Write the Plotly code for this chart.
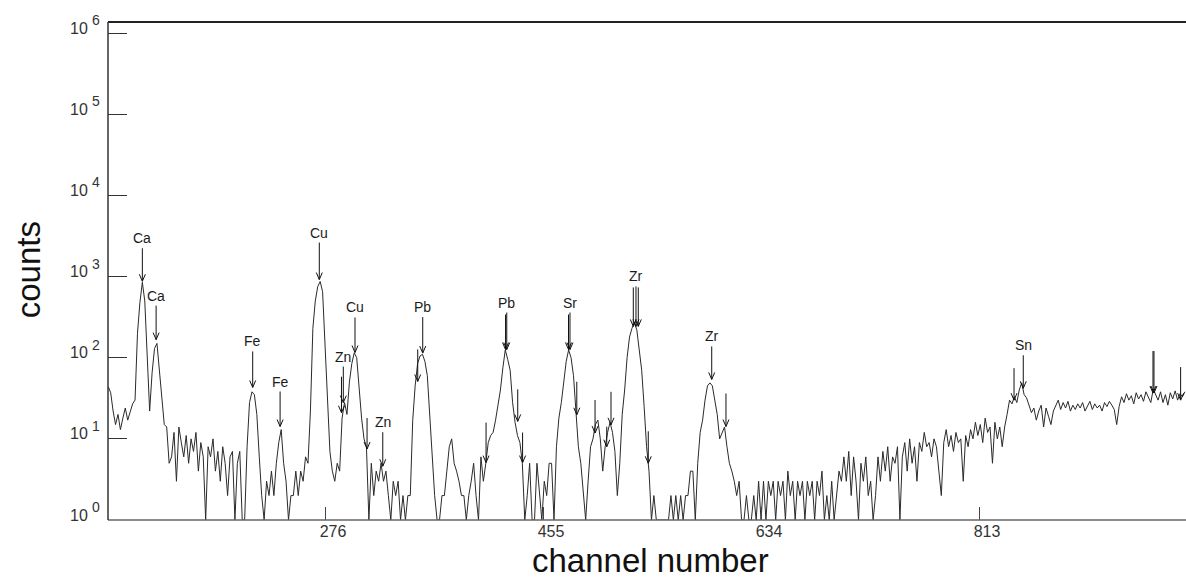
import numpy as np
import plotly.graph_objects as go

# Spectrum: counts sampled every 2 channels, starting at channel 98
first_channel = 98
channel_step = 2
counts = [
    44, 37, 22, 15, 20, 13, 18, 24, 17, 22,        # 98-116
    27, 30, 200, 480, 850, 500, 110, 22, 65, 130,  # 118-136
    150, 70, 28, 15, 14, 5, 6, 12, 3, 14,          # 138-156
    9, 6, 11, 5, 10, 7, 12, 4, 9, 6,               # 158-176
    1, 8, 6, 10, 4, 7, 3, 8, 5, 2,                 # 178-196
    6, 7, 1, 5, 7, 1, 1, 8, 28, 38,                # 198-216
    35, 20, 6, 2, 1, 3, 2, 4, 2, 5,                # 218-236
    9, 13, 5, 3, 1, 2, 2, 4, 2, 4,                 # 238-256
    3, 6, 5, 22, 230, 500, 750, 870, 650, 150,     # 258-276
    25, 7, 4, 3, 5, 4, 18, 28, 20, 50,             # 278-296
    85, 115, 100, 40, 18, 10, 8, 1, 5, 2,          # 298-316
    4, 3, 5, 3, 4, 2, 1, 3, 2, 3,                  # 318-336
    1, 2, 1, 2, 2, 17, 45, 85, 105, 110,           # 338-356
    90, 60, 20, 6, 2, 1, 1, 2, 2, 4,               # 358-376
    8, 10, 5, 4, 3, 2, 2, 1, 2, 3,                 # 378-396
    5, 2, 1, 6, 3, 5, 9, 11, 12, 17,               # 398-416
    25, 40, 75, 125, 95, 70, 28, 16, 11, 9,        # 418-436
    5, 1, 2, 5, 1, 1, 5, 2, 1, 3,                  # 438-456
    2, 5, 5, 1, 8, 18, 28, 50, 90, 125,            # 458-476
    100, 60, 23, 8, 5, 2, 1, 3, 8, 10,             # 478-496
    15, 17, 10, 4, 8, 12, 16, 12, 7, 2,            # 498-516
    5, 20, 40, 100, 180, 230, 270, 220, 130, 70,   # 518-536
    25, 8, 4, 1, 2, 1, 1, 1, 1, 1,                 # 538-556
    1, 2, 1, 2, 1, 2, 1, 2, 2, 4,                  # 558-576
    4, 1, 5, 12, 17, 30, 45, 49, 45, 30,           # 578-596
    20, 10, 12, 14, 8, 5, 4, 3, 2, 3,              # 598-616
    1, 1, 2, 1, 1, 2, 1, 3, 1, 3,                  # 618-636
    1, 3, 2, 3, 1, 3, 2, 3, 1, 4,                  # 638-656
    2, 3, 1, 3, 2, 3, 1, 3, 2, 3,                  # 658-676
    1, 3, 2, 4, 1, 2, 1, 3, 1, 2,                  # 678-696
    4, 3, 6, 3, 7, 2, 6, 3, 1, 5,                  # 698-716
    3, 6, 2, 3, 1, 2, 6, 3, 7, 4,                  # 718-736
    8, 3, 6, 5, 8, 1, 6, 9, 4, 10,                 # 738-756
    5, 8, 3, 9, 7, 12, 8, 9, 6, 10,                # 758-776
    8, 4, 2, 9, 13, 8, 11, 7, 12, 9,               # 778-796
    10, 3, 11, 8, 13, 10, 16, 11, 15, 9,           # 798-816
    18, 12, 14, 5, 16, 10, 14, 8, 14, 20,          # 818-836
    30, 27, 33, 28, 40, 49, 35, 32, 25, 21,        # 838-856
    24, 17, 22, 26, 14, 24, 19, 15, 22, 26,        # 858-876
    30, 23, 28, 24, 29, 22, 26, 23, 27, 24,        # 878-896
    28, 22, 25, 29, 23, 27, 24, 26, 22, 28,        # 898-916
    25, 29, 26, 23, 15, 25, 33, 28, 36, 30,        # 918-936
    34, 27, 37, 31, 35, 29, 38, 33, 28, 41,        # 938-956
    35, 30, 38, 28, 35, 26, 37, 31, 39, 30,        # 958-976
    36, 33, 38,                                    # 978-982
]
channels = first_channel + channel_step * np.arange(len(counts))

# Identified lines: element, channel, count at the arrow tip, label height (px)
line_names = ["Ca", "Ca", "Fe", "Fe", "Cu", "Cu", "Zn", "Zn",
              "Pb", "Pb", "Sr", "Zr", "Zr", "Sn"]
line_channels = [126.0, 137.3, 216.6, 239.1, 271.3, 300.6, 291.0, 323.4,
                 356.2, 425.2, 477.1, 531.3, 593.5, 849.3]
line_tip_counts = [875, 167, 43, 14.2, 918, 116, 28, 4.6,
                   114, 126, 126, 243, 54, 42]
line_rise = [43, 44, 46, 45, 47, 45, 46, 44, 46, 47, 47, 50, 43, 43]

# Additional unlabelled line markers
mark_channels = [310.5, 289.5, 352.1, 424.2, 434.2, 408.2, 438.2, 475.9,
                 482.7, 497.7, 510.8, 507.3, 529.1, 533.2, 541.4, 605.2,
                 841.7, 956.6, 955.8, 978.5]
mark_tip_counts = [7.5, 21, 51, 126, 16.4, 5.1, 5.1, 126,
                   19.8, 11.8, 14.9, 8.0, 243, 243, 5.0, 14.2,
                   30, 36.7, 36.7, 30]
mark_rise = [31, 36, 32, 35, 32, 40, 30, 35,
             33, 33, 33, 20, 39, 39, 32, 33,
             32, 42, 42, 33]

x_ticks = [276, 455, 634, 813]
y_exponents = [0, 1, 2, 3, 4, 5, 6]

FONT = "Liberation Sans, Arial, sans-serif"


def arrow_shape(ch, tip, length):
    """Downward arrow with an open V head, sized in pixels, tip at (ch, tip)."""
    path = f"M0,{length} L0,0 M-3,7 L0,0 L3,7"
    return dict(
        type="path", xref="x", yref="y",
        xsizemode="pixel", ysizemode="pixel",
        xanchor=ch, yanchor=tip, path=path,
        line=dict(color="#111", width=1), layer="above",
    )


fig = go.Figure()
fig.add_trace(go.Scatter(
    x=channels, y=counts, mode="lines",
    line=dict(color="#2a2a2a", width=1),
    hoverinfo="skip", showlegend=False,
))

shapes = [
    dict(type="line", xref="paper", yref="paper", x0=0, x1=1, y0=1, y1=1,
         line=dict(color="#222", width=2), layer="above"),
    dict(type="line", xref="paper", yref="paper", x0=0, x1=1, y0=0, y1=0,
         line=dict(color="#666", width=1.5), layer="above"),
    dict(type="line", xref="paper", yref="paper", x0=0, x1=0, y0=0, y1=1,
         line=dict(color="#333", width=1.5), layer="above"),
]
annotations = []
for name, ch, tip, rise in zip(line_names, line_channels, line_tip_counts, line_rise):
    shapes.append(arrow_shape(ch, tip, rise - 10))
    annotations.append(dict(
        x=ch, y=np.log10(tip), xref="x", yref="y", yshift=rise,
        text=name, showarrow=False, xanchor="center", yanchor="middle",
        font=dict(family=FONT, size=14, color="#1a1a1a"),
    ))
for ch, tip, rise in zip(mark_channels, mark_tip_counts, mark_rise):
    shapes.append(arrow_shape(ch, tip, rise))

# Decade labels on the count axis: "10" with a raised exponent
for e in y_exponents:
    annotations.append(dict(
        x=0, y=e, xref="paper", yref="y", text="10", showarrow=False,
        xanchor="right", yanchor="middle", xshift=-18, yshift=5,
        font=dict(family=FONT, size=16, color="#333"),
    ))
    annotations.append(dict(
        x=0, y=e, xref="paper", yref="y", text=str(e), showarrow=False,
        xanchor="center", yanchor="middle", xshift=-12, yshift=13,
        font=dict(family=FONT, size=14, color="#333"),
    ))

# Axis titles
annotations.append(dict(
    x=-0.074, y=0.502, xref="paper", yref="paper", text="counts",
    textangle=-90, showarrow=False, xanchor="center", yanchor="middle",
    font=dict(family=FONT, size=33, color="#111"),
))
annotations.append(dict(
    x=0.5028, y=-0.082, xref="paper", yref="paper", text="channel number",
    showarrow=False, xanchor="center", yanchor="middle",
    font=dict(family=FONT, size=33, color="#111"),
))

fig.update_layout(
    width=1186, height=578,
    margin=dict(l=108, r=0, t=22, b=58),
    paper_bgcolor="white", plot_bgcolor="white",
    annotations=annotations, shapes=shapes,
)
fig.update_xaxes(
    range=[97.8, 982.9], showgrid=False, zeroline=False, showline=False,
    tickmode="array", tickvals=x_ticks, ticktext=[str(t) for t in x_ticks],
    ticks="inside", ticklen=13, tickwidth=1, tickcolor="#444",
    tickfont=dict(family=FONT, size=16, color="#333"), ticklabelshift=8,
)
fig.update_yaxes(
    type="log", range=[0, 6.137], showgrid=False, zeroline=False, showline=False,
    tickmode="array", tickvals=[10 ** e for e in y_exponents],
    showticklabels=False,
    ticks="inside", ticklen=19, tickwidth=1, tickcolor="#333",
)

fig.write_html("out.html")
